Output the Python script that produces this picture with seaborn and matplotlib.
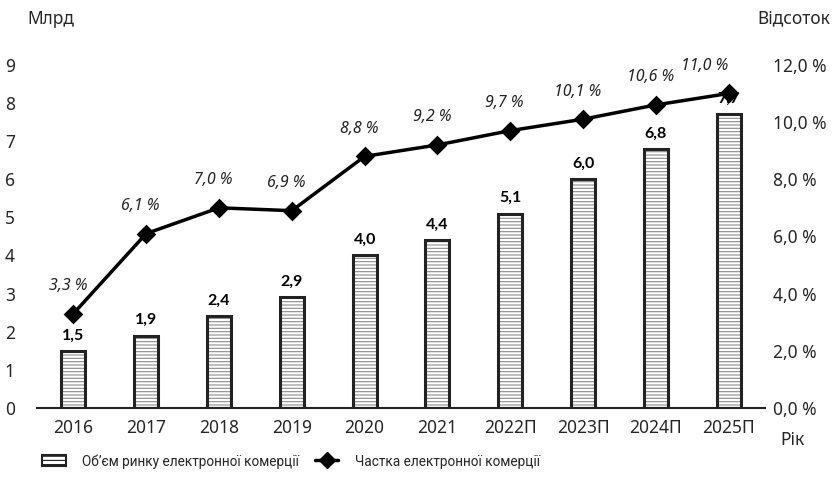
import matplotlib
matplotlib.use("Agg")
import matplotlib.pyplot as plt
import seaborn as sns
import pandas as pd
from matplotlib.patches import Patch
from matplotlib.lines import Line2D

years = ["2016", "2017", "2018", "2019", "2020", "2021", "2022П", "2023П", "2024П", "2025П"]
volume = [1.5, 1.9, 2.4, 2.9, 4.0, 4.4, 5.1, 6.0, 6.8, 7.7]
share = [3.3, 6.1, 7.0, 6.9, 8.8, 9.2, 9.7, 10.1, 10.6, 11.0]
left_ticks = [0, 1, 2, 3, 4, 5, 6, 7, 8, 9]
right_ticks = [0, 2, 4, 6, 8, 10, 12]
legend_labels = ["Об’єм ринку електронної комерції", "Частка електронної комерції"]

sns.set_theme(style="white")
plt.rcParams['font.family'] = ['Noto Sans', 'DejaVu Sans']
plt.rcParams['hatch.linewidth'] = 0.8

df = pd.DataFrame({"year": years, "volume": volume, "share": share})

fig = plt.figure(figsize=(8.32, 5.03), dpi=100)
ax = fig.add_axes([0.0445, 0.189, 0.875, 0.682])

HATCH = "-----"
# hatched fill
sns.barplot(data=df, x="year", y="volume", ax=ax, color="white", width=0.33,
            edgecolor="#8c8c8c", hatch=HATCH, linewidth=0)
# black outline
sns.barplot(data=df, x="year", y="volume", ax=ax, fill=False, width=0.33,
            edgecolor="#222222", linewidth=2.2)

ax.set_ylim(0, 9)
ax.set_xlim(-0.5, len(years) - 0.5)
ax.set_yticks(left_ticks)
ax.set_yticklabels([str(t) for t in left_ticks], fontsize=12.5)
ax.tick_params(axis="y", length=0, pad=16)
ax.tick_params(axis="x", length=0, pad=8, labelsize=12.5)
ax.set_xlabel("")
ax.set_ylabel("")
for s in ["left", "right", "top"]:
    ax.spines[s].set_visible(False)
ax.spines["bottom"].set_color("#222222")
ax.spines["bottom"].set_linewidth(1.5)

for i, v in enumerate(volume):
    ax.annotate(f"{v:.1f}".replace(".", ","), (i, v), xytext=(0, 6),
                textcoords="offset points", ha="center", va="bottom",
                fontsize=11.5, fontweight="bold", color="black",
                family=["Lato", "DejaVu Sans"])

ax2 = ax.twinx()
sns.pointplot(data=df, x="year", y="share", ax=ax2, color="black", markers="D",
              markersize=8, linewidth=2.5)
ax2.set_ylim(0, 12)
ax2.set_xlim(-0.5, len(years) - 0.5)
ax2.set_yticks(right_ticks)
ax2.set_yticklabels([f"{t:.1f} %".replace(".", ",") for t in right_ticks], fontsize=12.5)
ax2.tick_params(axis="y", length=0, pad=6)
ax2.set_ylabel("")
ax2.set_xlabel("")
for s in ["left", "right", "top", "bottom"]:
    ax2.spines[s].set_visible(False)

for i, v in enumerate(share):
    dx = -17 if i == len(share) - 1 else -4
    ax2.annotate(f"{v:.1f} %".replace(".", ","), (i, v), xytext=(dx, 14),
                 textcoords="offset points", ha="center", va="bottom",
                 fontsize=11.5, fontstyle="italic", color="#222222")

fig.text(0.061, 0.963, "Млрд", fontsize=12.5, ha="center", va="center")
fig.text(0.998, 0.963, "Відсоток", fontsize=12.5, ha="right", va="center")
fig.text(0.953, 0.125, "Рік", fontsize=12.5, ha="center", va="center")

handles = [Patch(facecolor="white", edgecolor="#222222", hatch="----", linewidth=1.5),
           Line2D([0], [0], color="black", marker="D", markersize=8, linewidth=2.5)]
fig.legend(handles, legend_labels, loc="center", bbox_to_anchor=(0.35, 0.083),
           ncol=2, frameon=False, handlelength=1.7, handleheight=0.9,
           columnspacing=1.2, handletextpad=1.2,
           prop={"family": ["Roboto", "DejaVu Sans"], "size": 9.8})

fig.savefig("out.png", dpi=100)
